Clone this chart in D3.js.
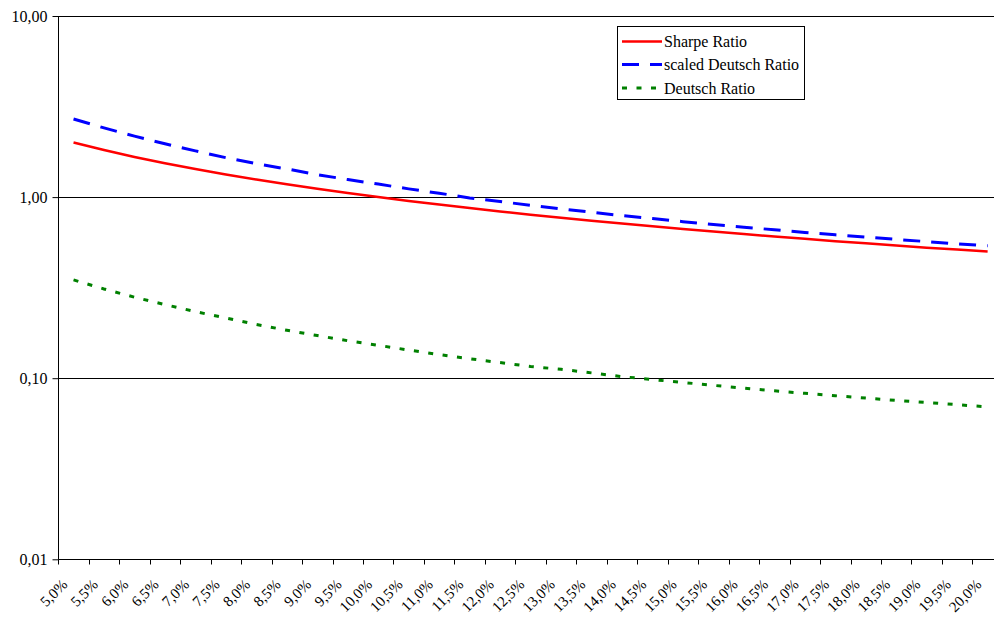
<!DOCTYPE html>
<html>
<head>
<meta charset="utf-8">
<script src="https://cdn.jsdelivr.net/npm/d3@7"></script>
<style>
  html, body { margin: 0; padding: 0; background: #fff; }
  svg { display: block; }
  text { font-family: "Liberation Serif", "Times New Roman", serif; fill: #000; }
</style>
</head>
<body>
<svg id="chart" width="994" height="619"></svg>
<script>
// Volatility levels (categories on the x axis)
const categories = ["5,0%","5,5%","6,0%","6,5%","7,0%","7,5%","8,0%","8,5%","9,0%","9,5%",
  "10,0%","10,5%","11,0%","11,5%","12,0%","12,5%","13,0%","13,5%","14,0%","14,5%",
  "15,0%","15,5%","16,0%","16,5%","17,0%","17,5%","18,0%","18,5%","19,0%","19,5%","20,0%"];

const sharpeRatio = [2.000,1.818,1.667,1.538,1.429,1.333,1.250,1.176,1.111,1.053,
  1.000,0.952,0.909,0.870,0.833,0.800,0.769,0.741,0.714,0.690,
  0.667,0.645,0.625,0.606,0.588,0.571,0.556,0.541,0.526,0.513,0.500];

const scaledDeutschRatio = [2.70,2.41,2.17,1.97,1.80,1.65,1.53,1.43,1.33,1.25,
  1.18,1.11,1.05,0.990,0.945,0.901,0.861,0.825,0.790,0.761,
  0.732,0.706,0.682,0.660,0.638,0.619,0.601,0.584,0.568,0.552,0.538];

const deutschRatio = [0.349,0.311,0.280,0.255,0.233,0.215,0.198,0.184,0.172,0.161,
  0.152,0.143,0.135,0.128,0.122,0.116,0.112,0.107,0.102,0.0983,
  0.0947,0.0913,0.0881,0.0852,0.0825,0.0800,0.0777,0.0754,0.0734,0.0714,0.0695];

const yTickValues = [0.01, 0.1, 1, 10];
const yTickLabels = ["0,01", "0,10", "1,00", "10,00"];

const seriesNames = ["Sharpe Ratio", "scaled Deutsch Ratio", "Deutsch Ratio"];

const FONT = "Liberation Serif, Times New Roman, serif";
const svg = d3.select("#chart");

const plotLeft = 58.3, plotTop = 16, plotBottom = 559.3;
const bandW = 30.47;
const plotRight = plotLeft + bandW * categories.length;

const x = d3.scaleBand().domain(categories).range([plotLeft, plotRight]).padding(0);
const y = d3.scaleLog().domain([0.01, 10]).range([plotBottom, plotTop]);

// horizontal gridlines at each decade
svg.append("g").selectAll("line")
  .data(yTickValues.slice(1))
  .join("line")
  .attr("x1", plotLeft).attr("x2", 994)
  .attr("y1", d => Math.round(y(d)) + 0.5)
  .attr("y2", d => Math.round(y(d)) + 0.5)
  .attr("stroke", "#000").attr("stroke-width", 1);

// y axis
const yAxis = d3.axisLeft(y)
  .tickValues(yTickValues)
  .tickFormat((d, i) => yTickLabels[i])
  .tickSize(6).tickPadding(5);
const gy = svg.append("g").attr("transform", `translate(${Math.round(plotLeft) + 0.5},0)`).call(yAxis)
  .attr("font-family", FONT).attr("font-size", 16);
gy.select(".domain").attr("stroke", "#000").attr("d", `M0,${plotTop}V${plotBottom}`);
gy.selectAll(".tick line").attr("stroke", "#000");
gy.selectAll(".tick text").style("font-size", "16px");

// x axis: ticks at the category boundaries
const gx = svg.append("g").attr("transform", `translate(0,${Math.round(plotBottom) + 0.5})`)
  .attr("font-family", FONT);
gx.append("line").attr("x1", plotLeft).attr("x2", 994).attr("y1", 0).attr("y2", 0)
  .attr("stroke", "#000");
gx.selectAll("line.tk").data(categories).join("line").attr("class", "tk")
  .attr("x1", d => Math.round(x(d)) + 0.5).attr("x2", d => Math.round(x(d)) + 0.5)
  .attr("y1", 0).attr("y2", 5).attr("stroke", "#000");
gx.selectAll("text").data(categories).join("text")
  .attr("transform", d => `translate(${x(d) + 10},${26}) rotate(-45)`)
  .attr("text-anchor", "end")
  .style("font-size", "15px")
  .text(d => d);

// series lines
const cx = d => x(d) + x.bandwidth() / 2;
const line = d3.line().x(d => cx(d.c)).y(d => y(d.v));
const series = [
  { name: seriesNames[0], values: sharpeRatio, color: "#ff0000", width: 2.5, dash: null },
  { name: seriesNames[1], values: scaledDeutschRatio, color: "#0000ff", width: 3, dash: "17,11" },
  { name: seriesNames[2], values: deutschRatio, color: "#008000", width: 3, dash: "5,9.5" }
];

svg.append("g").selectAll("path")
  .data(series)
  .join("path")
  .attr("d", s => line(categories.map((c, i) => ({ c, v: s.values[i] }))))
  .attr("fill", "none")
  .attr("stroke", s => s.color)
  .attr("stroke-width", s => s.width)
  .attr("stroke-dasharray", s => s.dash);

// legend
const lg = svg.append("g").attr("font-family", FONT);
lg.append("rect").attr("x", 617.5).attr("y", 26.5).attr("width", 187).attr("height", 73)
  .attr("fill", "#fff").attr("stroke", "#000");
const rowY = [41.5, 64.5, 88];
series.forEach((s, i) => {
  lg.append("line").attr("x1", 622).attr("x2", 662)
    .attr("y1", rowY[i]).attr("y2", rowY[i])
    .attr("stroke", s.color).attr("stroke-width", s.width)
    .attr("stroke-dasharray", s.dash);
  lg.append("text").attr("x", 664).attr("y", rowY[i]).attr("dy", "0.35em")
    .style("font-size", "16px").text(s.name);
});
</script>
</body>
</html>
